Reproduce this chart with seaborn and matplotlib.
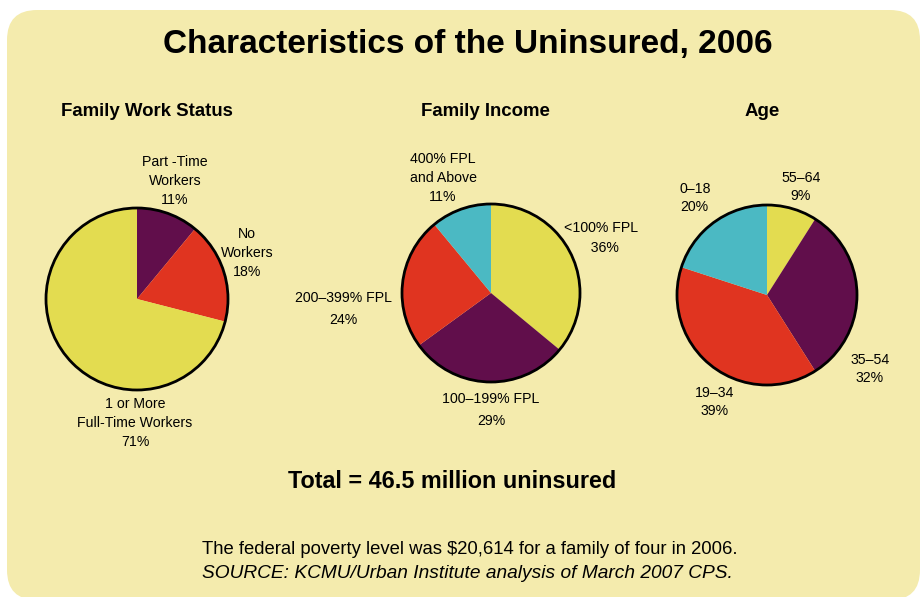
import matplotlib
matplotlib.use("Agg")
import matplotlib.pyplot as plt
from matplotlib.patches import FancyBboxPatch, Circle
import seaborn as sns

# ---- data ----
work_labels = ["Part -Time\nWorkers\n11%", "No\nWorkers\n18%", "1 or More\nFull-Time Workers\n71%"]
work_values = [11, 18, 71]

income_labels = ["<100% FPL", "100\u2013199% FPL", "200\u2013399% FPL", "400% FPL\nand Above"]
income_values = [36, 29, 24, 11]

age_labels = ["55\u201364", "35\u201354", "19\u201334", "0\u201318"]
age_values = [9, 32, 39, 20]

title = "Characteristics of the Uninsured, 2006"
subtitles = ["Family Work Status", "Family Income", "Age"]
total_text = "Total = 46.5 million uninsured"
note_text = "The federal poverty level was $20,614 for a family of four in 2006."
source_text = "SOURCE: KCMU/Urban Institute analysis of March 2007 CPS."

# ---- style ----
sns.set_theme(style="white")
plt.rcParams["font.family"] = ["Liberation Sans", "DejaVu Sans"]
plt.rcParams["text.color"] = "black"

YELLOW = "#E3DC50"
PURPLE = "#610E4B"
RED = "#E03420"
TEAL = "#4BB9C3"
BG = "#F4EBAD"

W, H = 923, 597
fig = plt.figure(figsize=(W / 100, H / 100), dpi=100)
fig.patch.set_facecolor("white")
ax = fig.add_axes([0, 0, 1, 1])


def Y(y):
    return H - y


bg = FancyBboxPatch((7, Y(600)), 913, 590, boxstyle="round,pad=0,rounding_size=30",
                    facecolor=BG, edgecolor="none", zorder=0)
ax.add_patch(bg)


def draw_pie(values, colors, cx, cy, r):
    ax.pie(values, colors=sns.color_palette(colors), startangle=90, counterclock=False,
           center=(cx, Y(cy)), radius=r, frame=True,
           wedgeprops=dict(linewidth=0, edgecolor="none"))
    ax.add_patch(Circle((cx, Y(cy)), r, facecolor="none", edgecolor="black", lw=2, zorder=5))


draw_pie(work_values, [PURPLE, RED, YELLOW], 137, 299, 91)
draw_pie(income_values, [YELLOW, PURPLE, RED, TEAL], 491, 293, 89)
draw_pie(age_values, [YELLOW, PURPLE, RED, TEAL], 767, 295, 90)

ax.set_xlim(0, W)
ax.set_ylim(0, H)
ax.set_aspect("equal")
ax.axis("off")

fs = 10.2
ls = 1.42
# Title and subtitles
ax.text(468, Y(44), title, ha="center", va="center", fontsize=24, fontweight="bold")
for x, s in zip([147, 485, 762], subtitles):
    ax.text(x, Y(111), s, ha="center", va="center", fontsize=13.4, fontweight="bold")

# Work status labels
ax.text(175, Y(181), work_labels[0], ha="center", va="center", fontsize=fs, linespacing=ls)
ax.text(247, Y(253), work_labels[1], ha="center", va="center", fontsize=fs, linespacing=ls)
ax.text(135, Y(423), work_labels[2], ha="center", va="center", fontsize=fs, linespacing=ls)

# Income labels
ax.text(443, Y(178), f"{income_labels[3]}\n{income_values[3]}%", ha="center", va="center",
        fontsize=fs, linespacing=ls)
ax.text(601, Y(238), f"{income_labels[0]}\n  {income_values[0]}%", ha="center", va="center",
        fontsize=fs, linespacing=1.5)
ax.text(343, Y(309), f"{income_labels[2]}\n{income_values[2]}%", ha="center", va="center",
        fontsize=fs, linespacing=1.65)
ax.text(491, Y(410), f"{income_labels[1]}\n{income_values[1]}%", ha="center", va="center",
        fontsize=fs, linespacing=1.65)

# Age labels
ax.text(801, Y(187), f"{age_labels[0]}\n{age_values[0]}%", ha="center", va="center",
        fontsize=fs, linespacing=ls)
ax.text(680, Y(198), f"{age_labels[3]}\n{age_values[3]}%", ha="left", va="center",
        fontsize=fs, linespacing=ls)
ax.text(870, Y(369), f"{age_labels[1]}\n{age_values[1]}%", ha="center", va="center",
        fontsize=fs, linespacing=ls)
ax.text(715, Y(402), f"{age_labels[2]}\n{age_values[2]}%", ha="center", va="center",
        fontsize=fs, linespacing=ls)

ax.text(452, Y(482), total_text, ha="center", va="center", fontsize=16.8, fontweight="bold")
ax.text(202, Y(549), note_text, ha="left", va="center", fontsize=13.3)
ax.text(202, Y(574), source_text, ha="left", va="center", fontsize=13.8, fontstyle="italic")

fig.savefig("out.png", dpi=100, facecolor="white")
